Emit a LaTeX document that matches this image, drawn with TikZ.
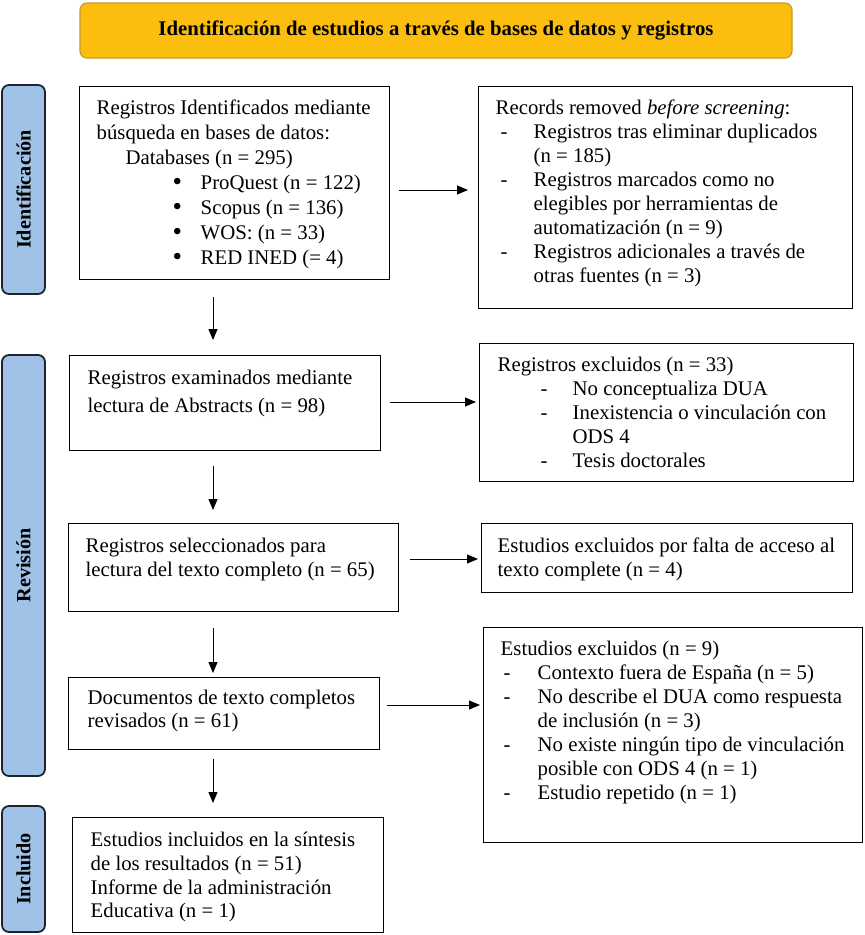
\documentclass[tikz,border=0pt]{standalone}
\usepackage{fontspec}
\setmainfont{Liberation Serif}
\usetikzlibrary{arrows.meta,calc}
\definecolor{titlefill}{RGB}{251,190,14}
\definecolor{titledraw}{RGB}{196,156,40}
\definecolor{sidefill}{RGB}{160,194,230}
\definecolor{sidedraw}{RGB}{28,36,50}
\newcommand\bxtext[6]{\parbox[c][#2pt][t]{#1pt}{\fontsize{20.8}{#5}\selectfont\leftskip=#4pt\relax\parindent=0pt\vspace*{\dimexpr #3pt - 0.7\baselineskip\relax}\strut #6}}
\newcommand\bigbul{\makebox[28pt][l]{\smash{\raisebox{-1pt}{\scalebox{1.3}{\textbullet}}}}}
\tikzset{
  flowbox/.style={draw=black, line width=1.4pt, inner sep=0pt, anchor=north west, fill=white},
  sidebox/.style={draw=sidedraw, fill=sidefill, line width=1.8pt, rounded corners=7pt, rotate=90, inner sep=0pt, font=\fontsize{20.2}{22}\selectfont\bfseries},
  arr/.style={line width=1pt, -{Triangle[length=11pt,width=9pt]}}
}
\begin{document}
\begin{tikzpicture}[x=1pt,y=-1pt]
\useasboundingbox (0,0) rectangle (865,935);
% title
\node[draw=titledraw, fill=titlefill, line width=1.2pt, rounded corners=7pt, minimum width=712pt, minimum height=55pt, inner sep=0pt, font=\fontsize{20.8}{22}\selectfont\bfseries] (title) at (436,30.5) {Identificación de estudios a través de bases de datos y registros};
% side labels
\node[sidebox, minimum width=209pt, minimum height=43pt] (sid) at (23.5,189.5) {Identificación};
\node[sidebox, minimum width=421pt, minimum height=43pt] (srev) at (23.5,565.5) {Revisión};
\node[sidebox, minimum width=126pt, minimum height=43pt] (sinc) at (23.5,869) {Incluido};
% boxes
\node[flowbox] (B1) at (79,86) {\bxtext{310}{193}{28}{17}{25}{Registros Identificados mediante\\
búsqueda en bases de datos:\\
\hspace*{29pt}Databases (n = 295)\\
\hspace*{76pt}\bigbul ProQuest (n = 122)\\
\hspace*{76pt}\bigbul Scopus (n = 136)\\
\hspace*{76pt}\bigbul WOS: (n = 33)\\
\hspace*{76pt}\bigbul RED INED (= 4)}};
\node[flowbox] (B2) at (478,86) {\bxtext{374}{222}{28}{17}{24}{Records removed \textit{before screening}:\\
\hspace*{5pt}\makebox[33pt][l]{-}Registros tras eliminar duplicados\\
\hspace*{38pt}(n = 185)\\
\hspace*{5pt}\makebox[33pt][l]{-}Registros marcados como no\\
\hspace*{38pt}elegibles por herramientas de\\
\hspace*{38pt}automatización (n = 9)\\
\hspace*{5pt}\makebox[33pt][l]{-}Registros adicionales a través de\\
\hspace*{38pt}otras fuentes (n = 3)}};
\node[flowbox] (B3) at (69,355) {\bxtext{311}{95}{29}{18}{28}{Registros examinados mediante\\
lectura de Abstracts (n = 98)}};
\node[flowbox] (B4) at (479,343) {\bxtext{374}{138}{28}{18}{24}{Registros excluidos (n = 33)\\
\hspace*{43pt}\makebox[32pt][l]{-}No conceptualiza DUA\\
\hspace*{43pt}\makebox[32pt][l]{-}Inexistencia o vinculación con\\
\hspace*{75pt}ODS 4\\
\hspace*{43pt}\makebox[32pt][l]{-}Tesis doctorales}};
\node[flowbox] (B5) at (68,523) {\bxtext{330}{88}{29}{17}{24}{Registros seleccionados para\\
lectura del texto completo (n = 65)}};
\node[flowbox] (B6) at (481,523) {\bxtext{371}{69}{29}{16}{24}{Estudios excluidos por falta de acceso al\\
texto complete (n = 4)}};
\node[flowbox] (B7) at (68,677) {\bxtext{311}{72}{27}{19}{23}{Documentos de texto completos\\
revisados (n = 61)}};
\node[flowbox] (B8) at (483,627) {\bxtext{379}{215}{28}{17}{24}{Estudios excluidos (n = 9)\\
\hspace*{3pt}\makebox[34pt][l]{-}Contexto fuera de España (n = 5)\\
\hspace*{3pt}\makebox[34pt][l]{-}No describe el DUA como respuesta\\
\hspace*{37pt}de inclusión (n = 3)\\
\hspace*{3pt}\makebox[34pt][l]{-}No existe ningún tipo de vinculación\\
\hspace*{37pt}posible con ODS 4 (n = 1)\\
\hspace*{3pt}\makebox[34pt][l]{-}Estudio repetido (n = 1)}};
\node[flowbox] (B9) at (72,817) {\bxtext{311}{115}{29}{18}{23.7}{Estudios incluidos en la síntesis\\
de los resultados (n = 51)\\
Informe de la administración\\
Educativa (n = 1)}};
% horizontal arrows
\draw[arr, shorten <=9pt, shorten >=10pt] (B1.east |- {(0,190)}) -- (B2.west |- {(0,190)});
\draw[arr, shorten <=9pt, shorten >=3pt] (B3.east |- {(0,402)}) -- (B4.west |- {(0,402)});
\draw[arr, shorten <=11pt, shorten >=3pt] (B5.east |- {(0,559)}) -- (B6.west |- {(0,559)});
\draw[arr, shorten <=7pt, shorten >=3pt] (B7.east |- {(0,705)}) -- (B8.west |- {(0,705)});
% vertical arrows
\draw[arr, shorten <=17pt, shorten >=15pt] (B1.south -| {(213,0)}) -- (B3.north -| {(213,0)});
\draw[arr, shorten <=15pt, shorten >=13pt] (B3.south -| {(213,0)}) -- (B5.north -| {(213,0)});
\draw[arr, shorten <=16pt, shorten >=4pt] (B5.south -| {(213,0)}) -- (B7.north -| {(213,0)});
\draw[arr, shorten <=9pt, shorten >=14pt] (B7.south -| {(213,0)}) -- (B9.north -| {(213,0)});
\end{tikzpicture}
\end{document}
